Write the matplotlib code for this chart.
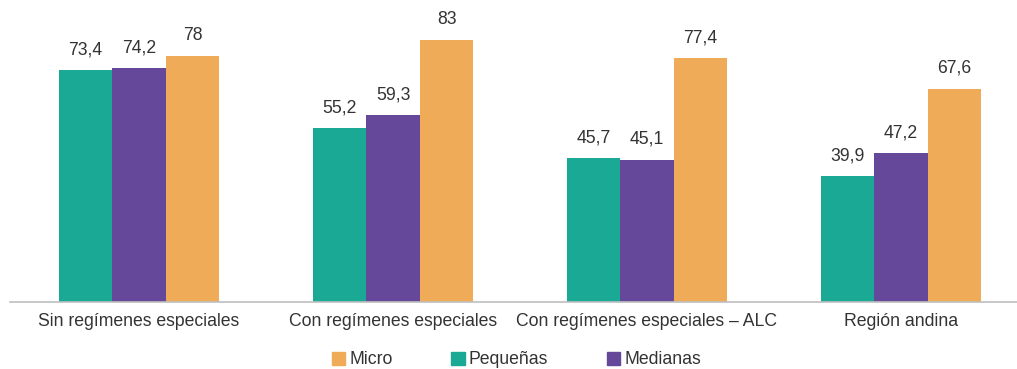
import matplotlib
matplotlib.use("Agg")
import matplotlib.pyplot as plt
from matplotlib.patches import Patch
import numpy as np

plt.rcParams['font.family'] = ['Liberation Sans', 'DejaVu Sans']

categories = ["Sin regímenes especiales", "Con regímenes especiales",
              "Con regímenes especiales – ALC", "Región andina"]
pequenas = [73.4, 55.2, 45.7, 39.9]
medianas = [74.2, 59.3, 45.1, 47.2]
micro = [78, 83, 77.4, 67.6]

series_names = ["Pequeñas", "Medianas", "Micro"]
series_values = [pequenas, medianas, micro]
colors = {"Pequeñas": "#1AA994", "Medianas": "#65489A", "Micro": "#EFAB58"}
text_color = "#333333"
fs = 12.7

W, H = 1017, 369
fig = plt.figure(figsize=(W / 100, H / 100), dpi=100)
base_px = 302
px_per_unit = 3.154
ymax = 90
ax = fig.add_axes([10 / W, (H - base_px) / H, 1 - 10 / W, ymax * px_per_unit / H])

x = np.arange(len(categories))
width = 0.211
for i, (name, vals) in enumerate(zip(series_names, series_values)):
    pos = x + (i - 1) * width
    bars = ax.bar(pos, vals, width=width, color=colors[name], linewidth=0)
    for b, v in zip(bars, vals):
        ax.annotate(f"{v:g}".replace(".", ","), (b.get_x() + b.get_width() / 2, v),
                    xytext=(0, 8.5), textcoords="offset points",
                    ha="center", va="bottom", fontsize=fs, color=text_color)

ax.set_xlim(-0.508, 3.457)
ax.set_ylim(0, ymax)
ax.set_xticks(x)
ax.set_xticklabels(categories, fontsize=fs, color=text_color)
ax.tick_params(axis="x", length=0, pad=8)
ax.set_yticks([])
for s in ["top", "right", "left"]:
    ax.spines[s].set_visible(False)
ax.spines["bottom"].set_color("#BFBFBF")
ax.spines["bottom"].set_linewidth(1.2)

handles = [Patch(color=colors[n]) for n in ["Micro", "Pequeñas", "Medianas"]]
fig.legend(handles, ["Micro", "Pequeñas", "Medianas"], loc="center",
           bbox_to_anchor=(0.5 + 8 / W, (H - 360) / H), ncol=3, frameon=False,
           fontsize=fs, handlelength=0.75, handleheight=0.75,
           handletextpad=0.25, columnspacing=3.3, labelcolor=text_color,
           borderpad=0.1)

fig.savefig("out.png", dpi=100)
